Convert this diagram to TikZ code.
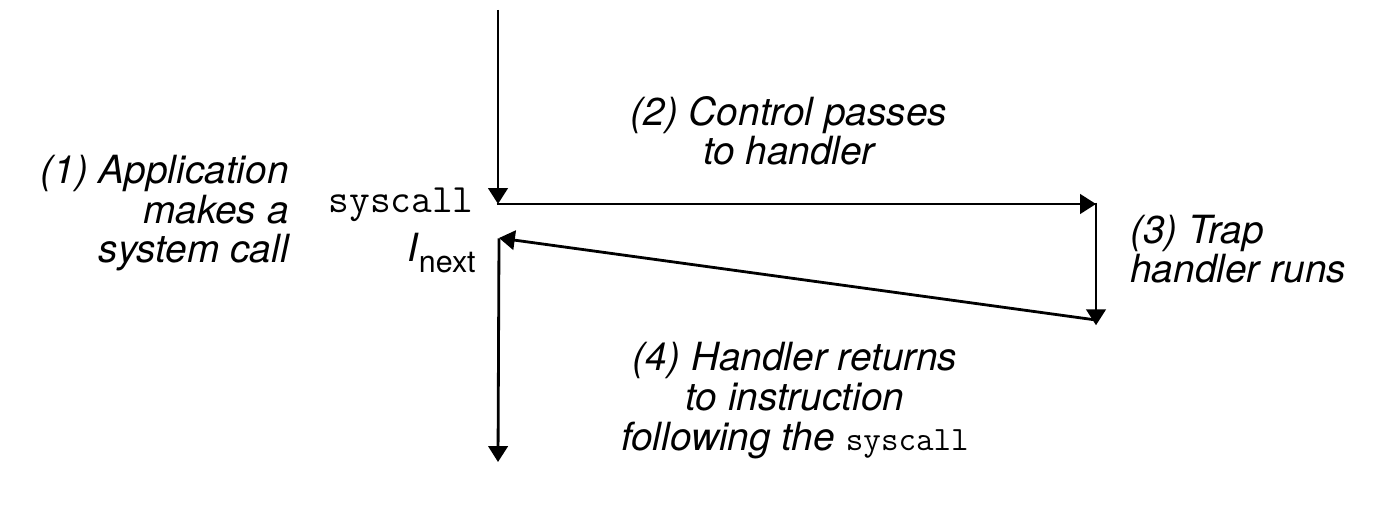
\documentclass[tikz,border=0pt]{standalone}
\usepackage{fontspec}
\setmainfont{TeX Gyre Heros}
\usetikzlibrary{arrows.meta}
\tikzset{
  flow/.style={line width=1.6pt, -{Triangle[length=9pt,width=11pt]}},
  lbl/.style={inner sep=0pt, font=\fontsize{22.1}{22.6}\selectfont\itshape},
}
\begin{document}
\begin{tikzpicture}[x=0.02cm,y=-0.02cm]
\useasboundingbox (0,0) rectangle (1386,506);
\coordinate (top) at (498,10);
\coordinate (sc) at (498,204);
\coordinate (hr) at (1096,204);
\coordinate (tr) at (1096,320);
\coordinate (nx) at (499,238);
\coordinate (bot) at (498,462);
\draw[flow] (top) -- (sc);
\draw[flow] ([xshift=-0.8pt]sc) -- (hr);
\draw[flow] ([yshift=0.8pt]hr) -- ([yshift=-3pt]tr);
\draw[flow] (tr) -- (nx);
\draw[flow] ([yshift=-0.2pt]nx) -- (bot);
\node[lbl, align=right, anchor=base east] (l1) at (289,263) {(1) Application\\makes a\\system call};
\node[inner sep=0pt, anchor=base east, font=\fontsize{22.9}{22}\selectfont\ttfamily] (syscall) at (474,213) {syscall};
\node[inner sep=0pt, anchor=base east, font=\fontsize{22.1}{22}\selectfont] (inext) at (476,262) {\textit{I}\raisebox{-0.28em}{\fontsize{17.3}{17}\selectfont next}};
\node[lbl, align=center, anchor=base] (l2) at (789,165) {(2) Control passes\\to handler};
\node[lbl, align=left, anchor=base west] (l3) at (1130,283) {(3) Trap\\handler runs};
\node[lbl, align=center, anchor=base] (l4) at (795,450) {(4) Handler returns\\to instruction\\following the {\upshape\ttfamily\fontsize{19.4}{22}\selectfont syscall}};
\end{tikzpicture}
\end{document}
